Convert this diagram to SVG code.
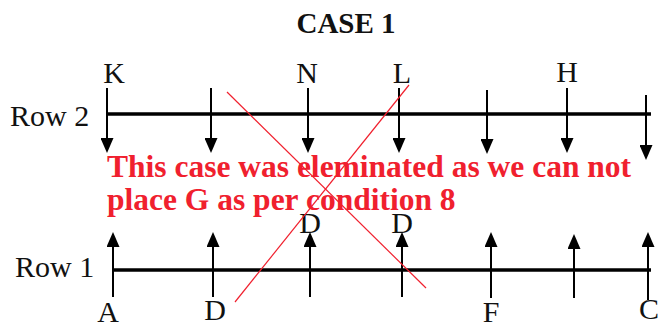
<svg xmlns="http://www.w3.org/2000/svg" width="659" height="329" viewBox="0 0 659 329">
  <defs>
    <marker id="ah" markerUnits="userSpaceOnUse" viewBox="0 0 15 13" refX="0" refY="6.5" markerWidth="15" markerHeight="13" orient="auto">
      <path d="M0,0 L15,6.5 L0,13 z" fill="#000"/>
    </marker>
    <style>
      .lbl { font-family: "Liberation Serif", "Times New Roman", serif; font-size: 30px; fill: #111; text-anchor: middle; }
      .row { font-family: "Liberation Serif", "Times New Roman", serif; font-size: 30px; fill: #111; }
      .title { font-family: "Liberation Serif", "Times New Roman", serif; font-size: 29px; font-weight: bold; fill: #111; text-anchor: middle; }
      .note { font-family: "Liberation Serif", "Times New Roman", serif; font-size: 31.5px; font-weight: bold; fill: #f0202e; }
      .axis { stroke: #000; stroke-width: 3.5; }
      .arr { stroke: #000; stroke-width: 2; marker-end: url(#ah); }
      .cross { stroke: #f0202e; stroke-width: 1.2; }
    </style>
  </defs>

  <g id="title"><text class="title" x="346" y="33">CASE 1</text></g>

  <g id="row2">
    <text class="row" x="10" y="126">Row 2</text>
    <line class="axis" x1="107" y1="114" x2="651" y2="114"/>
  </g>
  <g id="row1">
    <text class="row" x="15" y="277">Row 1</text>
    <line class="axis" x1="113" y1="270" x2="651" y2="270"/>
  </g>

  <g id="connectors">
    <line class="arr" x1="107" y1="88" x2="107" y2="138"/>
    <line class="arr" x1="211" y1="88" x2="211" y2="138"/>
    <line class="arr" x1="308" y1="88" x2="308" y2="138"/>
    <line class="arr" x1="399" y1="88" x2="399" y2="138"/>
    <line class="arr" x1="487" y1="90" x2="487" y2="139"/>
    <line class="arr" x1="567" y1="88" x2="567" y2="138"/>
    <line class="arr" x1="646" y1="95" x2="646" y2="145"/>

    <line class="arr" x1="113" y1="297" x2="113" y2="247"/>
    <line class="arr" x1="213" y1="297" x2="213" y2="247"/>
    <line class="arr" x1="310" y1="297" x2="310" y2="247"/>
    <line class="arr" x1="402" y1="297" x2="402" y2="247"/>
    <line class="arr" x1="491" y1="298" x2="491" y2="247"/>
    <line class="arr" x1="574" y1="298" x2="574" y2="249"/>
    <line class="arr" x1="648" y1="300" x2="648" y2="247"/>
  </g>

  <g id="labels-top">
    <text class="lbl" x="114" y="83">K</text>
    <text class="lbl" x="307" y="83">N</text>
    <text class="lbl" x="402" y="83">L</text>
    <text class="lbl" x="567" y="82">H</text>
  </g>
  <g id="labels-mid">
    <text class="lbl" x="310" y="233" font-size="28">D</text>
    <text class="lbl" x="402" y="233" font-size="28">D</text>
  </g>
  <g id="labels-bottom">
    <text class="lbl" x="108" y="322">A</text>
    <text class="lbl" x="215" y="320">D</text>
    <text class="lbl" x="491" y="322">F</text>
    <text class="lbl" x="649" y="319">C</text>
  </g>

  <g id="note">
    <text class="note" x="107" y="177">This case was eleminated as we can not</text>
    <text class="note" x="107" y="210">place G as per condition 8</text>
  </g>

  <g id="cross">
    <line class="cross" x1="227" y1="92" x2="426" y2="288"/>
    <line class="cross" x1="409" y1="85" x2="235" y2="302"/>
  </g>
</svg>
